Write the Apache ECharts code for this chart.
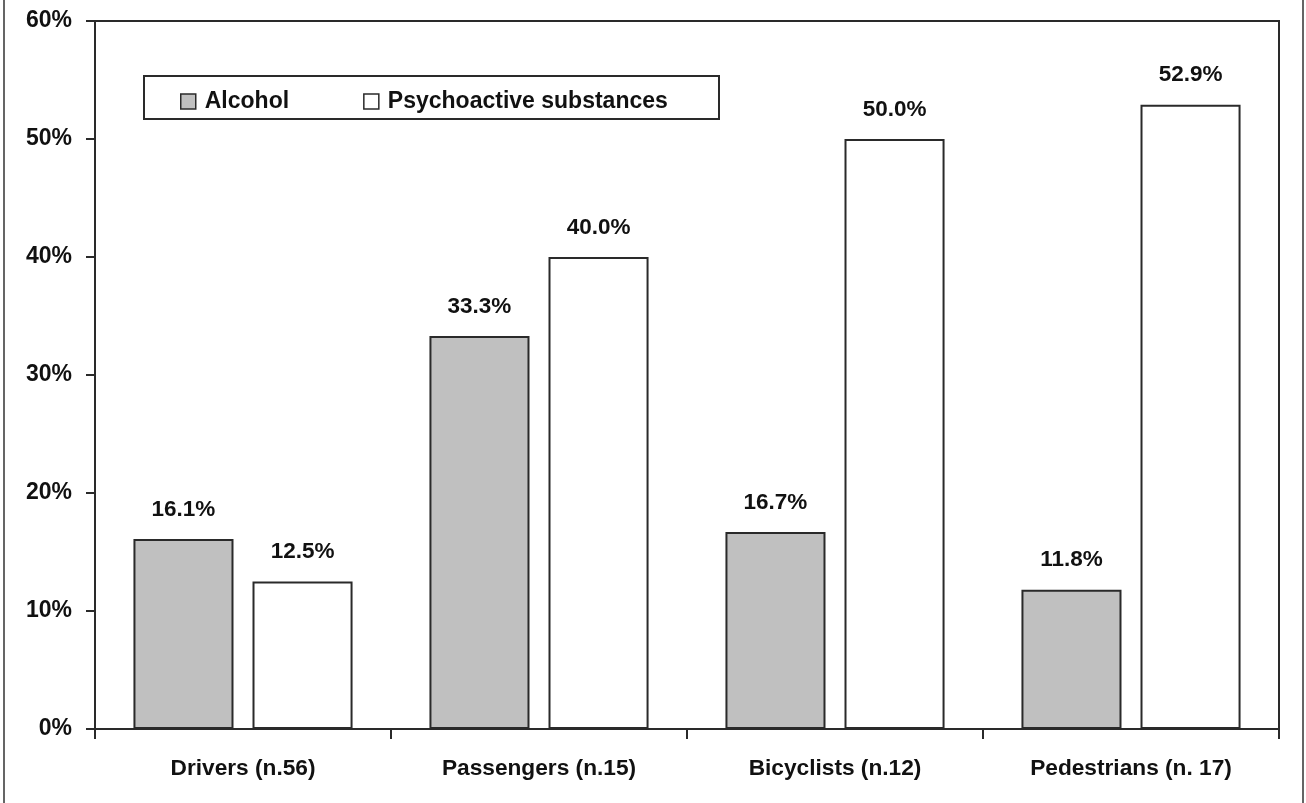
<!DOCTYPE html>
<html>
<head>
<meta charset="utf-8">
<script src="https://cdn.jsdelivr.net/npm/echarts@6/dist/echarts.min.js"></script>
<style>
html,body{margin:0;padding:0;background:#fff;}
#c{width:1306px;height:803px;}
</style>
</head>
<body>
<div id="c"></div>
<script>
var categories = ['Drivers (n.56)', 'Passengers (n.15)', 'Bicyclists (n.12)', 'Pedestrians (n. 17)'];
var alcohol = [16.1, 33.3, 16.7, 11.8];
var psychoactive = [12.5, 40.0, 50.0, 52.9];
var yTicks = [0, 10, 20, 30, 40, 50, 60];

var FONT = '"Liberation Sans", Arial, sans-serif';
var TXT = '#111';
var LINE = '#2a2a2a';

var chart = echarts.init(document.getElementById('c'));
var labelCfg = {
  show: true, position: 'top', distance: 18,
  fontFamily: FONT, fontWeight: 'bold', fontSize: 22.5, color: TXT,
  formatter: function (p) { return p.value.toFixed(1) + '%'; }
};
chart.setOption({
  animation: false,
  backgroundColor: '#fff',
  textStyle: { fontFamily: FONT },
  grid: { left: 95, right: 27, top: 21, bottom: 74, show: true, borderColor: LINE, borderWidth: 2, backgroundColor: 'transparent' },
  graphic: [
    { type: 'rect', shape: { x: 4, y: -5, width: 1299, height: 813 }, style: { fill: 'none', stroke: '#333', lineWidth: 1.5 }, silent: true, z: 0 },
    { type: 'rect', shape: { x: 144, y: 76, width: 575, height: 43 }, style: { fill: '#fff', stroke: LINE, lineWidth: 2 }, z: 10 }
  ],
  legend: {
    left: 180, top: 90, padding: 0, itemWidth: 15, itemHeight: 15, itemGap: 74, z: 20,
    icon: 'rect',
    textStyle: { fontFamily: FONT, fontWeight: 'bold', fontSize: 23, color: TXT, padding: [0, 0, 0, 4] },
    data: [
      { name: 'Alcohol', itemStyle: { color: '#c0c0c0', borderColor: LINE, borderWidth: 1.5 } },
      { name: 'Psychoactive substances', itemStyle: { color: '#fff', borderColor: LINE, borderWidth: 1.5 } }
    ]
  },
  xAxis: {
    type: 'category', data: categories,
    axisLine: { lineStyle: { color: LINE, width: 2 } },
    axisTick: { show: true, length: 10, lineStyle: { color: LINE, width: 2 } },
    axisLabel: { margin: 28, fontFamily: FONT, fontWeight: 'bold', fontSize: 22.7, color: TXT }
  },
  yAxis: {
    type: 'value', min: 0, max: 60, interval: 10,
    axisLine: { show: true, lineStyle: { color: LINE, width: 2 } },
    axisTick: { show: true, length: 9, lineStyle: { color: LINE, width: 2 } },
    splitLine: { show: false },
    axisLabel: { margin: 23, fontFamily: FONT, fontWeight: 'bold', fontSize: 23, color: TXT,
      formatter: function (v) { return yTicks.indexOf(v) >= 0 ? v + '%' : ''; } }
  },
  series: [
    { name: 'Alcohol', type: 'bar', data: alcohol, barWidth: '33.8%', barGap: '19%',
      itemStyle: { color: '#c0c0c0', borderColor: LINE, borderWidth: 2 }, label: labelCfg },
    { name: 'Psychoactive substances', type: 'bar', data: psychoactive, barWidth: '33.8%', barGap: '19%',
      itemStyle: { color: '#fff', borderColor: LINE, borderWidth: 2 }, label: labelCfg }
  ]
});
</script>
</body>
</html>
